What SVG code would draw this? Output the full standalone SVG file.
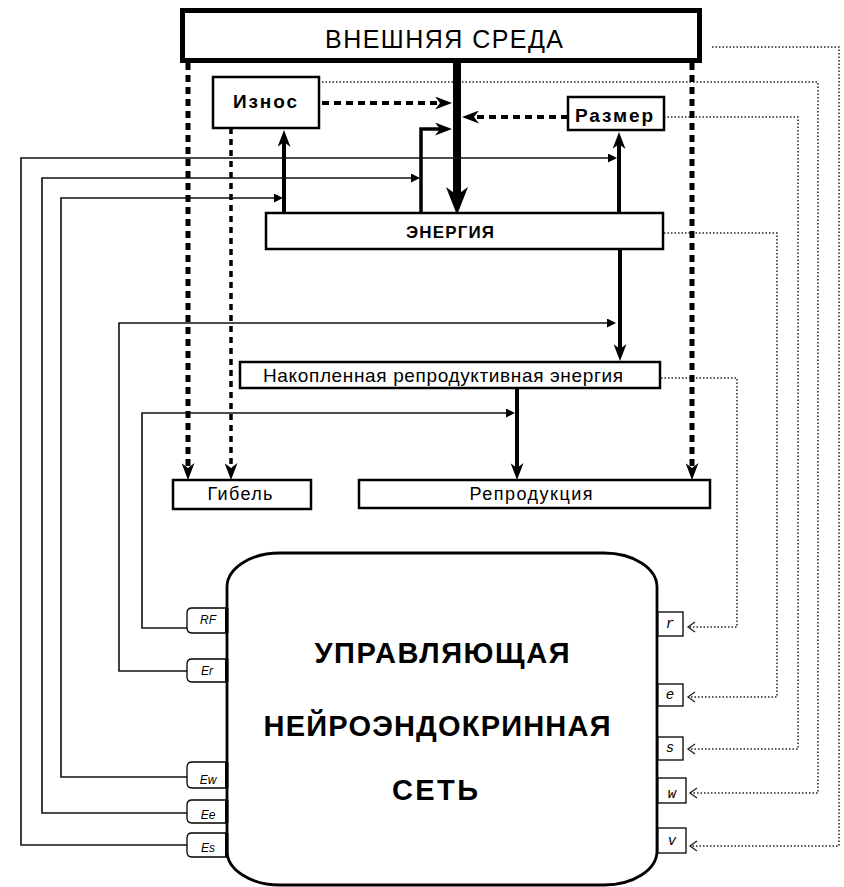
<svg xmlns="http://www.w3.org/2000/svg" width="844" height="887" viewBox="0 0 844 887">
<style>
.box{fill:#fff;stroke:#000;stroke-width:2.5}
.t{font-family:"Liberation Sans",Arial,sans-serif;fill:#000;text-anchor:middle}
.b{font-weight:bold}
.thin{fill:none;stroke:#111;stroke-width:1.6}
.dot{fill:none;stroke:#222;stroke-width:1.5;stroke-dasharray:1.5 2}
.solid{fill:none;stroke:#000;stroke-width:4}
.dash{fill:none;stroke:#000;stroke-width:5;stroke-dasharray:7 5}
.dash2{fill:none;stroke:#000;stroke-width:4;stroke-dasharray:7 5}
.pl{font-family:"Liberation Sans",Arial,sans-serif;font-style:italic;font-size:12px;fill:#000;text-anchor:middle}
.pr{font-family:"Liberation Mono","Courier New",monospace;font-style:italic;font-size:14px;fill:#000;text-anchor:middle}
.port{fill:#fff;stroke:#000;stroke-width:1.3}
</style>
<defs>
<marker id="barbL" markerUnits="userSpaceOnUse" markerWidth="28" markerHeight="22" refX="8" refY="11" orient="auto"><path d="M0,0 L28,11 L0,22 L8,11 Z" fill="#000"/></marker>
<marker id="barbM" markerUnits="userSpaceOnUse" markerWidth="17" markerHeight="13" refX="5" refY="6.5" orient="auto"><path d="M0,0 L17,6.5 L0,13 L5,6.5 Z" fill="#000"/></marker>
<marker id="tri" markerUnits="userSpaceOnUse" markerWidth="9" markerHeight="9" refX="0" refY="4.5" orient="auto"><path d="M0,0 L9,4.5 L0,9 Z" fill="#000"/></marker>
<marker id="chev" markerUnits="userSpaceOnUse" markerWidth="10" markerHeight="12" refX="8" refY="6" orient="auto"><path d="M1,1 L8,6 L1,11" fill="none" stroke="#222" stroke-width="1.3"/></marker>
</defs>
<rect width="844" height="887" fill="#fff"/>

<g id="connectors">
<path class="dot" d="M712,47 H839 V846 H690" marker-end="url(#chev)"/>
<path class="dot" d="M322,82 H818 V793 H690" marker-end="url(#chev)"/>
<path class="dot" d="M664,117 H798 V749 H688" marker-end="url(#chev)"/>
<path class="dot" d="M664,233 H777 V697 H688" marker-end="url(#chev)"/>
<path class="dot" d="M661,378 H737 V627 H688" marker-end="url(#chev)"/>

<path fill="none" stroke="#000" stroke-width="8" d="M457,63 V195" marker-end="url(#barbL)"/>
<path class="dash2" d="M322,103 H440" marker-end="url(#barbM)"/>
<path class="dash2" d="M568,117 H474" marker-end="url(#barbM)"/>
<path fill="none" stroke="#000" stroke-width="3.5" d="M421,213 V129 H440" marker-end="url(#barbM)"/>
<path class="solid" d="M284,213 V142" marker-end="url(#barbM)"/>
<path class="solid" d="M619,213 V144" marker-end="url(#barbM)"/>
<path class="solid" d="M620,250 V349" marker-end="url(#barbM)"/>
<path class="solid" d="M517,389 V468" marker-end="url(#barbM)"/>
<path class="dash" d="M188,63 V468" marker-end="url(#barbM)"/>
<path class="dash" d="M692,63 V468" marker-end="url(#barbM)"/>
<path fill="none" stroke="#000" stroke-width="3.5" stroke-dasharray="6 5" d="M231,128 V468" marker-end="url(#barbM)"/>

<path class="thin" d="M187,845 H21 V158 H608" marker-end="url(#tri)"/>
<path class="thin" d="M187,813 H42 V178 H411" marker-end="url(#tri)"/>
<path class="thin" d="M187,777 H61 V198 H274" marker-end="url(#tri)"/>
<path class="thin" d="M187,671 H119 V323 H607" marker-end="url(#tri)"/>
<path class="thin" d="M187,628 H142 V413 H506" marker-end="url(#tri)"/>
</g>

<g id="env">
<rect x="182.5" y="10.5" width="517" height="50" fill="#fff" stroke="#000" stroke-width="5"/>
<text class="t" x="444" y="48" font-size="25" textLength="238">ВНЕШНЯЯ СРЕДА</text>
</g>
<g id="iznos">
<rect class="box" x="213" y="77" width="106" height="51"/>
<text class="t b" x="265" y="108" font-size="19" textLength="64">Износ</text>
</g>
<g id="razmer">
<rect class="box" x="568" y="97" width="96" height="33"/>
<text class="t b" x="614" y="122" font-size="19" textLength="78">Размер</text>
</g>
<g id="energy">
<rect class="box" x="266" y="213" width="397" height="36"/>
<text class="t b" x="450" y="238" font-size="17" textLength="88">ЭНЕРГИЯ</text>
</g>
<g id="accum">
<rect class="box" x="240" y="362" width="420" height="26"/>
<text class="t" x="443" y="382" font-size="19" textLength="360">Накопленная репродуктивная энергия</text>
</g>
<g id="death">
<rect class="box" x="173" y="480" width="138" height="29"/>
<text class="t" x="240" y="500" font-size="18" textLength="65">Гибель</text>
</g>
<g id="repro">
<rect class="box" x="359" y="480" width="351" height="28"/>
<text class="t" x="531" y="500" font-size="18" textLength="123">Репродукция</text>
</g>
<g id="network">
<path d="M280,553 H604 A53,34 0 0 1 657,587 V851 A53,34 0 0 1 604,885 H280 A53,34 0 0 1 227,851 V587 A53,34 0 0 1 280,553 Z" fill="#fff" stroke="#000" stroke-width="2.8"/>
<text class="t b" x="442" y="663" font-size="29" textLength="255">УПРАВЛЯЮЩАЯ</text>
<text class="t b" x="437" y="736" font-size="29" textLength="347">НЕЙРОЭНДОКРИННАЯ</text>
<text class="t b" x="435" y="800" font-size="29" textLength="86">СЕТЬ</text>
</g>
<g id="port-RF"><path class="port" d="M227,608 H192 Q187,608 187,613 V628 Q187,633 192,633 H227"/><rect x="225" y="608" width="3.5" height="25"/><text class="pl" x="208" y="624">RF</text></g>
<g id="port-Er"><path class="port" d="M227,659 H192 Q187,659 187,664 V677 Q187,682 192,682 H227"/><rect x="225" y="659" width="3.5" height="23"/><text class="pl" x="207" y="675">Er</text></g>
<g id="port-Ew"><path class="port" d="M227,762 H192 Q187,762 187,767 V783 Q187,788 192,788 H227"/><rect x="225" y="762" width="3.5" height="26"/><text class="pl" x="208" y="784">Ew</text></g>
<g id="port-Ee"><path class="port" d="M227,800 H192 Q187,800 187,805 V818 Q187,823 192,823 H227"/><rect x="225" y="800" width="3.5" height="23"/><text class="pl" x="208" y="819">Ee</text></g>
<g id="port-Es"><path class="port" d="M227,833 H192 Q187,833 187,838 V852 Q187,857 192,857 H227"/><rect x="225" y="833" width="3.5" height="24"/><text class="pl" x="208" y="852">Es</text></g>
<g id="port-r"><rect class="port" x="658" y="612" width="25" height="24"/><text class="pr" x="670" y="628">r</text></g>
<g id="port-e"><rect class="port" x="658" y="684" width="25" height="22"/><text class="pr" x="670" y="699">e</text></g>
<g id="port-s"><rect class="port" x="658" y="737" width="25" height="23"/><text class="pr" x="670" y="752">s</text></g>
<g id="port-w"><rect class="port" x="658" y="778" width="28" height="25"/><text class="pr" x="672" y="798">w</text></g>
<g id="port-v"><rect class="port" x="658" y="828" width="28" height="25"/><text class="pr" x="672" y="845">v</text></g>
</svg>
